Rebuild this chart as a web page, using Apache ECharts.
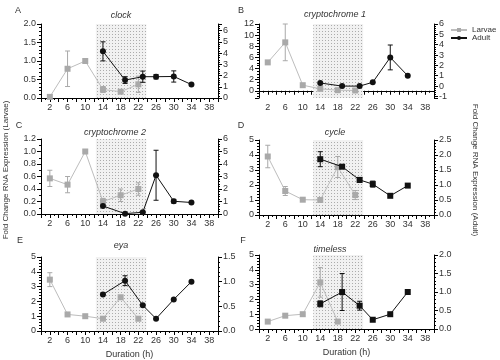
<!DOCTYPE html>
<html><head><meta charset="utf-8">
<script src="https://cdn.jsdelivr.net/npm/echarts@6/dist/echarts.min.js"></script>
<style>html,body{margin:0;padding:0;background:#fff}#c{width:500px;height:360px}</style>
</head><body><div id="c"></div>
<script>
// ---- data ----
const xLabelValues = [2,6,10,14,18,22,26,30,34,38];
const larvaeHours = [2,6,10,14,18,22];
const adultHours = [14,19,23,26,30,34];
const lightPhase = [12.4, 23.8];

const clockLarvae = [0.03,0.79,1.0,0.23,0.17,0.37];
const clockLarvaeErr = [0,0.48,0,0.08,0.04,0.22];
const clockAdult = [4.16,1.6,1.9,1.9,1.92,1.2];
const clockAdultErr = [0.85,0.3,0.5,0.2,0.5,0];

const cry1Larvae = [5.1,8.7,1.0,0.35,0.1,0.05];
const cry1LarvaeErr = [0,3.3,0,0,0,0];
const cry1Adult = [0.3,0.0,0.0,0.37,2.77,1.0];
const cry1AdultErr = [0,0,0,0,1.2,0];

const cry2Larvae = [0.57,0.47,1.0,0.2,0.3,0.4];
const cry2LarvaeErr = [0.13,0.13,0,0.05,0.1,0.1];
const cry2Adult = [0.64,0.03,0.14,3.1,1.02,0.92];
const cry2AdultErr = [0,0,0,2.0,0.15,0];

const cycLarvae = [3.9,1.6,1.02,1.0,3.2,1.33];
const cycLarvaeErr = [0.75,0.3,0,0,0.7,0.3];
const cycAdult = [1.86,1.61,1.17,1.03,0.64,0.98];
const cycAdultErr = [0.25,0,0.08,0.1,0,0];

const eyaLarvae = [3.47,1.12,1.0,0.83,2.28,0.83];
const eyaLarvaeErr = [0.47,0,0,0,0,0];
const eyaAdult = [0.74,1.02,0.52,0.25,0.64,1.0];
const eyaAdultErr = [0,0.1,0,0,0,0];

const timLarvae = [0.5,0.9,1.0,3.15,0.5];
const timLarvaeErr = [0,0.1,0,1.0,0];
const timAdult = [0.68,1.0,0.63,0.25,0.4,1.0];
const timAdultErr = [0.08,0.5,0.12,0,0,0];

// ---- layout ----
const FONT = 'Liberation Sans, Arial, sans-serif';
const panels = [
 {letter:'A', title:'clock', grid:{left:41,top:24,width:177,height:74},
  L:{min:0,max:2,interval:0.5,dec:1,minor:5}, R:{min:0,max:6.6,interval:1,dec:0,hideMax:true,minor:5},
  larvae:clockLarvae, larvaeErr:clockLarvaeErr, adult:clockAdult, adultErr:clockAdultErr, sym:'circle',
  letterPos:[18,11], titlePos:[121,15]},
 {letter:'B', title:'cryptochrome 1', grid:{left:259,top:24,width:175,height:74},
  L:{min:-1.3,max:12,splitNumber:6,dec:0,hideMin:true,minor:4}, R:{min:-1.15,max:6,splitNumber:7,dec:0,hideMin:true,minor:5},
  larvae:cry1Larvae, larvaeErr:cry1LarvaeErr, adult:cry1Adult, adultErr:cry1AdultErr, sym:'circle',
  letterPos:[241,11], titlePos:[335,14]},
 {letter:'C', title:'cryptochrome 2', grid:{left:41,top:139,width:177,height:75},
  L:{min:0,max:1.2,interval:0.2,dec:1,minor:2}, R:{min:0,max:6,interval:1,dec:0,minor:5},
  larvae:cry2Larvae, larvaeErr:cry2LarvaeErr, adult:cry2Adult, adultErr:cry2AdultErr, sym:'circle',
  letterPos:[19,126], titlePos:[115,132]},
 {letter:'D', title:'cycle', grid:{left:259,top:140,width:175,height:75},
  L:{min:0,max:5,interval:1,dec:0,minor:5}, R:{min:0,max:2.5,interval:0.5,dec:1,minor:5},
  larvae:cycLarvae, larvaeErr:cycLarvaeErr, adult:cycAdult, adultErr:cycAdultErr, sym:'rect',
  letterPos:[241,126], titlePos:[335,132]},
 {letter:'E', title:'eya', grid:{left:41,top:257,width:177,height:75},
  L:{min:0,max:5,interval:1,dec:0,minor:5}, R:{min:0,max:1.5,interval:0.5,dec:1,minor:5},
  larvae:eyaLarvae, larvaeErr:eyaLarvaeErr, adult:eyaAdult, adultErr:eyaAdultErr, sym:'circle',
  letterPos:[20,241], titlePos:[121,245], xName:true},
 {letter:'F', title:'timeless', grid:{left:259,top:255,width:175,height:74},
  L:{min:0,max:5,interval:1,dec:0,minor:5}, R:{min:0,max:2,interval:0.5,dec:1,minor:5},
  larvae:timLarvae, larvaeErr:timLarvaeErr, adult:timAdult, adultErr:timAdultErr, sym:'rect',
  letterPos:[243,241], titlePos:[330,249], xName:true}
];

// dotted pattern for the shaded phase
const pc = document.createElement('canvas'); pc.width = 3; pc.height = 3;
const g = pc.getContext('2d');
g.fillStyle = '#f1f1f1'; g.fillRect(0,0,3,3);
g.fillStyle = '#ababab'; g.fillRect(1,1,1,1);

function errRender(params, api){
  const x = api.value(0), y = api.value(1), e = api.value(2);
  if (!e) return null;
  const hi = api.coord([x, y + e]), lo = api.coord([x, y - e]);
  const w = 2.5;
  const st = {stroke: api.visual('color'), lineWidth: 1};
  return {type:'group', children:[
    {type:'line', shape:{x1:hi[0],y1:hi[1],x2:lo[0],y2:lo[1]}, style:st},
    {type:'line', shape:{x1:hi[0]-w,y1:hi[1],x2:hi[0]+w,y2:hi[1]}, style:st},
    {type:'line', shape:{x1:lo[0]-w,y1:lo[1],x2:lo[0]+w,y2:lo[1]}, style:st}
  ]};
}

const grids = [], xAxes = [], yAxes = [], series = [], graphics = [];
const axisLine = {show:true, lineStyle:{color:'#000', width:1}};
panels.forEach((p, i) => {
  grids.push(Object.assign({containLabel:false}, p.grid));
  xAxes.push({
    type:'value', gridIndex:i, min:0, max:40, interval:2,
    axisLine:axisLine, splitLine:{show:false},
    axisTick:{show:true, length:4, lineStyle:{color:'#000'}},
    minorTick:{show:true, splitNumber:2, length:2, lineStyle:{color:'#000'}},
    axisLabel:{fontSize:9, color:'#333', fontFamily:FONT, margin:5,
      formatter: v => xLabelValues.indexOf(v) >= 0 ? String(v) : ''},
    name: p.xName ? 'Duration (h)' : '', nameLocation:'middle', nameGap:19,
    nameTextStyle:{fontSize:9, color:'#333', fontFamily:FONT}
  });
  [p.L, p.R].forEach((a, k) => {
    const ax = {
      type:'value', gridIndex:i, position: k === 0 ? 'left' : 'right',
      min:a.min, max:a.max,
      axisLine:axisLine, splitLine:{show:false},
      axisTick:{show:true, length:4, lineStyle:{color:'#000'}},
      minorTick:{show:true, splitNumber:a.minor, length:2, lineStyle:{color:'#000'}},
      axisLabel:{fontSize:9, color:'#333', fontFamily:FONT, margin:5,
        showMinLabel: !a.hideMin, showMaxLabel: !a.hideMax,
        formatter: v => Number(v).toFixed(a.dec)}
    };
    if (a.interval) ax.interval = a.interval; else ax.splitNumber = a.splitNumber;
    yAxes.push(ax);
  });
  const lData = p.larvae.map((v, j) => [larvaeHours[j], v]);
  const aData = p.adult.map((v, j) => [adultHours[j], v]);
  series.push({
    type:'line', name:'Larvae', xAxisIndex:i, yAxisIndex:2*i, data:lData,
    symbol:'rect', symbolSize:6, itemStyle:{color:'#a9a9a9'}, lineStyle:{color:'#bdbdbd', width:1},
    z:3, silent:true, animation:false,
    markArea:{silent:true, itemStyle:{color:{image:pc, repeat:'repeat'}},
      data:[[{xAxis:lightPhase[0]},{xAxis:lightPhase[1]}]]}
  });
  series.push({
    type:'custom', xAxisIndex:i, yAxisIndex:2*i, renderItem:errRender, itemStyle:{color:'#a9a9a9'},
    data:p.larvae.map((v, j) => [larvaeHours[j], v, p.larvaeErr[j]]), encode:{x:0, y:1}, z:2, silent:true
  });
  series.push({
    type:'line', name:'Adult', xAxisIndex:i, yAxisIndex:2*i+1, data:aData,
    symbol:p.sym, symbolSize:6, itemStyle:{color:'#111'}, lineStyle:{color:'#111', width:1},
    z:5, silent:true, animation:false
  });
  series.push({
    type:'custom', xAxisIndex:i, yAxisIndex:2*i+1, renderItem:errRender, itemStyle:{color:'#111'},
    data:p.adult.map((v, j) => [adultHours[j], v, p.adultErr[j]]), encode:{x:0, y:1}, z:4, silent:true
  });
  graphics.push({type:'text', x:p.letterPos[0], y:p.letterPos[1],
    style:{text:p.letter, font:'9px ' + FONT, fill:'#333', align:'center', verticalAlign:'middle', textAlign:'center', textVerticalAlign:'middle'}});
  graphics.push({type:'text', x:p.titlePos[0], y:p.titlePos[1],
    style:{text:p.title, font:'italic 9px ' + FONT, fill:'#333', align:'center', verticalAlign:'middle', textAlign:'center', textVerticalAlign:'middle'}});
});

graphics.push({type:'text', x:6, y:170, rotation:Math.PI/2,
  style:{text:'Fold Change RNA Expression (Larvae)', font:'8px ' + FONT, fill:'#333', align:'center', verticalAlign:'middle', textAlign:'center', textVerticalAlign:'middle'}});
graphics.push({type:'text', x:475, y:170, rotation:-Math.PI/2,
  style:{text:'Fold Change RNA Expression (Adult)', font:'8px ' + FONT, fill:'#333', align:'center', verticalAlign:'middle', textAlign:'center', textVerticalAlign:'middle'}});

const chart = echarts.init(document.getElementById('c'), null, {renderer:'canvas'});
chart.setOption({
  animation:false,
  backgroundColor:'#fff',
  legend:{data:['Larvae','Adult'], orient:'vertical', left:445, top:21, itemWidth:16, itemHeight:5, itemGap:0,
    textStyle:{fontSize:8, color:'#333', fontFamily:FONT}, selectedMode:false},
  grid:grids, xAxis:xAxes, yAxis:yAxes, series:series, graphic:graphics
});
</script></body></html>
